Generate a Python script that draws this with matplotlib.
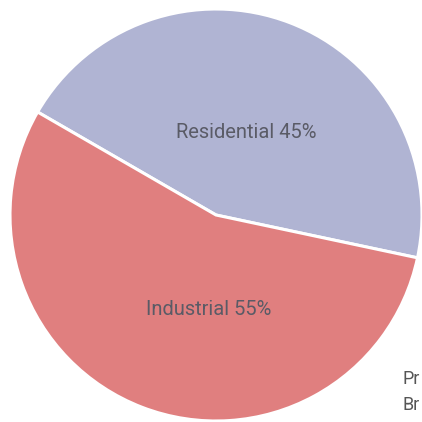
import matplotlib
matplotlib.use("Agg")
import matplotlib.pyplot as plt
import numpy as np

categories = ["Residential", "Industrial"]
values = [45, 55]
colors = ["#b0b4d3", "#e07f7f"]
legend_labels = ["Pr", "Br"]

fig = plt.figure(figsize=(4.22, 4.22), dpi=100)
ax = fig.add_axes([0, 0, 1, 1])
wedges, _ = ax.pie(values, colors=colors, startangle=-12, counterclock=True,
                   wedgeprops=dict(edgecolor="white", linewidth=2.2),
                   radius=1, center=(0, 0))

# labels
label_pos = [(0.146, 0.40), (-0.034, -0.46)]
for cat, v, (x, y) in zip(categories, values, label_pos):
    ax.text(x, y, f"{cat} {v}%", ha="center", va="center", fontsize=14.5,
            color="#5a5b66", family="Roboto")

ax.set_xlim(-216 / 206, 206 / 206)
ax.set_ylim(-207 / 206, 215 / 206)
ax.set_aspect("auto")
ax.axis("off")

for i, t in enumerate(legend_labels):
    fig.text(403 / 422, 1 - (379 + 26 * i) / 422, t, ha="left", va="center",
             fontsize=13, color="#555555", family="Roboto")

fig.savefig("out.png", dpi=100)
